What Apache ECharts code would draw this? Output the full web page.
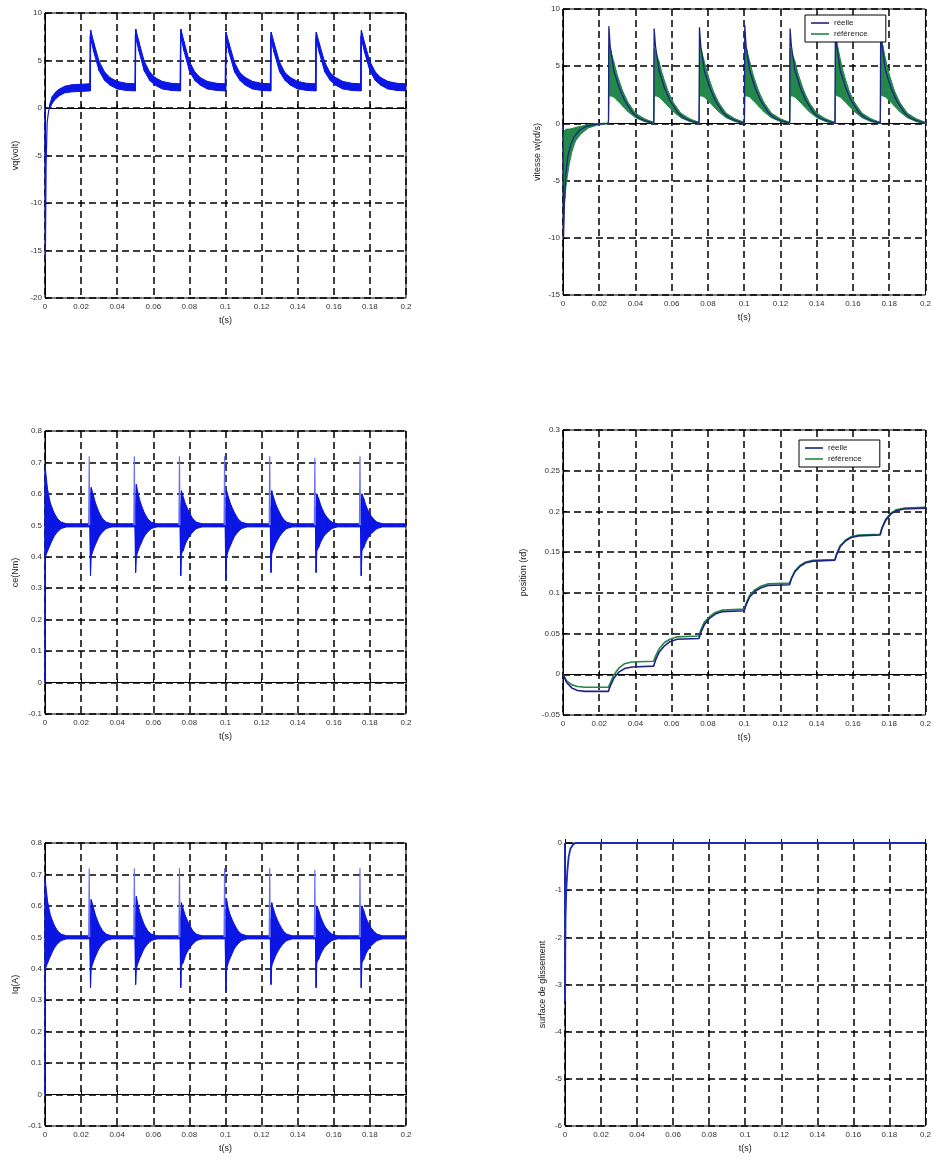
<!DOCTYPE html>
<html><head><meta charset="utf-8">
<script src="https://cdn.jsdelivr.net/npm/echarts@6/dist/echarts.min.js"></script>
<style>html,body{margin:0;padding:0;background:#fff}#c{width:934px;height:1163px}</style>
</head><body><div id="c"></div>
<script>
// ---------- Plot 1 : vq(volt) ----------
const vqStartT = [0, 0.0002, 0.0006, 0.0012, 0.002, 0.0028];
const vqStartV = [0, -16, -6, -1.5, -0.3, 0.1];
const vqT = [0.0025,0.004,0.006,0.008,0.011,0.015,0.02,0.0248,
0.0251,0.0253,0.027,0.030,0.033,0.036,0.040,0.045,0.0498,
0.0501,0.0503,0.052,0.055,0.058,0.061,0.065,0.070,0.0748,
0.0751,0.0753,0.077,0.080,0.083,0.086,0.090,0.095,0.0998,
0.1001,0.1003,0.102,0.105,0.108,0.111,0.115,0.120,0.1248,
0.1251,0.1253,0.127,0.130,0.133,0.136,0.140,0.145,0.1498,
0.1501,0.1503,0.152,0.155,0.158,0.161,0.165,0.170,0.1748,
0.1751,0.1753,0.177,0.180,0.183,0.186,0.190,0.195,0.2];
const vqLow = [-0.1,0.5,1.0,1.3,1.6,1.7,1.75,1.8,
1.8,7.3,5.9,3.9,2.9,2.4,2.0,1.85,1.8,
1.8,7.4,6.0,3.9,2.9,2.4,2.0,1.85,1.8,
1.8,7.4,6.0,3.9,2.9,2.4,2.0,1.85,1.8,
1.8,7.1,5.8,3.8,2.9,2.4,2.0,1.85,1.8,
1.8,7.1,5.8,3.8,2.9,2.4,2.0,1.85,1.8,
1.8,7.1,5.8,3.8,2.9,2.4,2.0,1.85,1.8,
1.8,7.3,5.9,3.9,2.9,2.4,2.0,1.85,1.8];
const vqHigh = [0.3,1.2,1.7,2.0,2.3,2.45,2.5,2.55,
7.6,8.2,6.9,4.9,3.8,3.2,2.8,2.6,2.55,
7.7,8.3,7.0,4.9,3.8,3.2,2.8,2.6,2.55,
7.7,8.3,7.0,4.9,3.8,3.2,2.8,2.6,2.55,
7.4,8.0,6.8,4.8,3.7,3.2,2.8,2.6,2.55,
7.4,8.0,6.8,4.8,3.7,3.2,2.8,2.6,2.55,
7.4,8.0,6.8,4.8,3.7,3.2,2.8,2.6,2.55,
7.6,8.2,6.9,4.9,3.8,3.2,2.8,2.6,2.55];

// ---------- Plot 2 : vitesse w(rd/s) ----------
const wT = [0,0.0003,0.0008,0.0015,0.0025,0.004,0.006,0.009,0.013,0.018,0.0249,
0.0251,0.0253,0.026,0.028,0.031,0.034,0.0385,0.042,0.046,0.0499,
0.0501,0.0503,0.051,0.053,0.056,0.059,0.0635,0.067,0.071,0.0749,
0.0751,0.0753,0.076,0.078,0.081,0.084,0.0885,0.092,0.096,0.0999,
0.1001,0.1003,0.101,0.103,0.106,0.109,0.1135,0.117,0.121,0.1249,
0.1251,0.1253,0.126,0.128,0.131,0.134,0.1385,0.142,0.146,0.1499,
0.1501,0.1503,0.151,0.153,0.156,0.159,0.1635,0.167,0.171,0.1749,
0.1751,0.1753,0.176,0.178,0.181,0.184,0.1885,0.192,0.196,0.2];
const wReal = [0,-10,-7,-4.5,-3,-2,-1.2,-0.6,-0.25,-0.08,0,
0.3,8.5,6.8,4.6,3.1,2.0,0.9,0.45,0.2,0.05,
0.3,8.3,6.8,4.6,3.1,2.0,0.9,0.45,0.2,0.05,
0.3,8.4,6.8,4.6,3.1,2.0,0.9,0.45,0.2,0.05,
0.3,8.6,6.8,4.6,3.1,2.0,0.9,0.45,0.2,0.05,
0.3,8.3,6.8,4.6,3.1,2.0,0.9,0.45,0.2,0.05,
0.3,8.4,6.8,4.6,3.1,2.0,0.9,0.45,0.2,0.05,
0.3,8.4,6.8,4.6,3.1,2.0,0.9,0.45,0.2,0.0];
const wRefT = [0.0002,0.001,0.002,0.0035,0.005,0.007,0.010,0.014,0.019,0.0249,
0.0251,0.0254,0.0265,0.028,0.030,0.033,0.036,0.040,0.045,0.0499,
0.0501,0.0504,0.0515,0.053,0.055,0.058,0.061,0.065,0.070,0.0749,
0.0751,0.0754,0.0765,0.078,0.080,0.083,0.086,0.090,0.095,0.0999,
0.1001,0.1004,0.1015,0.103,0.105,0.108,0.111,0.115,0.120,0.1249,
0.1251,0.1254,0.1265,0.128,0.130,0.133,0.136,0.140,0.145,0.1499,
0.1501,0.1504,0.1515,0.153,0.155,0.158,0.161,0.165,0.170,0.1749,
0.1751,0.1754,0.1765,0.178,0.180,0.183,0.186,0.190,0.195,0.2];
const wRefLow = [-8.5,-6.5,-5.0,-3.5,-2.4,-1.5,-0.9,-0.4,-0.15,-0.02,
0,2.4,2.4,2.3,2.0,1.5,1.0,0.5,0.15,0.0,
0,2.4,2.4,2.3,2.0,1.5,1.0,0.5,0.15,0.0,
0,2.4,2.4,2.3,2.0,1.5,1.0,0.5,0.15,0.0,
0,2.4,2.4,2.3,2.0,1.5,1.0,0.5,0.15,0.0,
0,2.4,2.4,2.3,2.0,1.5,1.0,0.5,0.15,0.0,
0,2.5,2.4,2.3,2.0,1.5,1.0,0.5,0.15,0.0,
0,2.5,2.4,2.3,2.0,1.5,1.0,0.5,0.15,0.0];
const wRefHigh = [-1.0,-0.6,-0.5,-0.5,-0.45,-0.35,-0.25,-0.1,0.0,0.02,
0.05,6.8,6.3,5.4,4.2,2.8,1.8,0.9,0.4,0.1,
0.05,6.6,6.1,5.4,4.2,2.8,1.8,0.9,0.4,0.1,
0.05,6.8,6.3,5.4,4.2,2.8,1.8,0.9,0.4,0.1,
0.05,6.9,6.4,5.4,4.2,2.8,1.8,0.9,0.4,0.1,
0.05,6.6,6.1,5.4,4.2,2.8,1.8,0.9,0.4,0.1,
0.05,7.6,6.8,5.6,4.3,2.8,1.8,0.9,0.4,0.1,
0.05,7.6,6.8,5.6,4.3,2.8,1.8,0.9,0.4,0.1];

// ---------- Plot 3 : ce(Nm) ----------
const ceStartT = [0, 0.0001, 0.0002];
const ceStartV = [0, 0.69, 0.40];
const ceT = [0.0002,0.0015,0.003,0.005,0.007,0.009,0.012,0.0243,
0.0248,0.0252,0.0256,0.0266,0.028,0.030,0.032,0.034,0.037,0.0493,
0.0498,0.0502,0.0506,0.0516,0.053,0.055,0.057,0.059,0.062,0.0743,
0.0748,0.0752,0.0756,0.0766,0.078,0.080,0.082,0.084,0.087,0.0993,
0.0998,0.1002,0.1006,0.1016,0.103,0.105,0.107,0.109,0.112,0.1243,
0.1248,0.1252,0.1256,0.1266,0.128,0.130,0.132,0.134,0.137,0.1493,
0.1498,0.1502,0.1506,0.1516,0.153,0.155,0.157,0.159,0.162,0.1743,
0.1748,0.1752,0.1756,0.1766,0.178,0.180,0.182,0.184,0.187,0.2];
const ceLow = [0.40,0.42,0.44,0.465,0.48,0.49,0.495,0.495,
0.495,0.34,0.40,0.42,0.44,0.465,0.48,0.49,0.495,0.495,
0.495,0.35,0.40,0.42,0.44,0.465,0.48,0.49,0.495,0.495,
0.495,0.34,0.41,0.42,0.445,0.465,0.48,0.49,0.495,0.495,
0.495,0.33,0.40,0.42,0.44,0.465,0.48,0.49,0.495,0.495,
0.495,0.35,0.41,0.425,0.445,0.465,0.48,0.49,0.495,0.495,
0.495,0.35,0.42,0.43,0.45,0.47,0.48,0.49,0.495,0.495,
0.495,0.34,0.42,0.43,0.45,0.47,0.48,0.49,0.495,0.495];
const ceHigh = [0.68,0.61,0.57,0.54,0.52,0.51,0.505,0.505,
0.505,0.56,0.62,0.60,0.57,0.54,0.52,0.51,0.505,0.505,
0.505,0.56,0.63,0.60,0.57,0.54,0.52,0.51,0.505,0.505,
0.505,0.56,0.61,0.59,0.565,0.54,0.52,0.51,0.505,0.505,
0.505,0.56,0.61,0.59,0.565,0.54,0.52,0.51,0.505,0.505,
0.505,0.56,0.61,0.59,0.565,0.54,0.52,0.51,0.505,0.505,
0.505,0.56,0.60,0.585,0.56,0.535,0.52,0.51,0.505,0.505,
0.505,0.56,0.60,0.585,0.56,0.535,0.52,0.51,0.505,0.505];
const ceSpikeT = [0.0242,0.0245,0.0248,0.0249, 0.0492,0.0495,0.0498,0.0499, 0.0742,0.0745,0.0748,0.0749,
0.0992,0.0995,0.0998,0.0999, 0.1242,0.1245,0.1248,0.1249, 0.1492,0.1495,0.1498,0.1499, 0.1742,0.1745,0.1748];
const ceSpikeV = [0.5,0.72,0.5,'-', 0.5,0.72,0.5,'-', 0.5,0.72,0.5,'-',
0.5,0.72,0.5,'-', 0.5,0.72,0.5,'-', 0.5,0.715,0.5,'-', 0.5,0.72,0.5];

// ---------- Plot 4 : position (rd) ----------
const posT = [0,0.002,0.005,0.008,0.012,0.025,0.026,0.028,0.031,0.034,0.038,0.05,
0.051,0.053,0.056,0.059,0.063,0.075,0.076,0.078,0.081,0.084,0.088,0.1,
0.101,0.103,0.106,0.109,0.113,0.125,0.126,0.128,0.131,0.134,0.138,0.15,
0.151,0.153,0.156,0.159,0.163,0.175,0.176,0.178,0.181,0.184,0.188,0.2];
const posReal = [0,-0.010,-0.017,-0.020,-0.021,-0.021,-0.015,-0.005,0.003,0.007,0.009,0.010,
0.017,0.027,0.035,0.040,0.043,0.044,0.051,0.061,0.069,0.074,0.077,0.078,
0.085,0.095,0.102,0.106,0.109,0.110,0.117,0.126,0.133,0.137,0.139,0.140,
0.147,0.157,0.164,0.168,0.170,0.171,0.179,0.189,0.197,0.201,0.203,0.204];
const posRef = [0,-0.008,-0.013,-0.015,-0.016,-0.016,-0.011,-0.001,0.008,0.013,0.015,0.016,
0.022,0.031,0.039,0.043,0.046,0.047,0.054,0.064,0.071,0.076,0.079,0.080,
0.087,0.097,0.104,0.108,0.111,0.112,0.118,0.127,0.134,0.138,0.140,0.141,
0.148,0.158,0.165,0.169,0.171,0.172,0.180,0.190,0.198,0.202,0.204,0.205];

// ---------- Plot 5 : Iq(A) ----------
const iqStartT = [0, 0.0001, 0.0002];
const iqStartV = [0, 0.69, 0.40];
const iqT = ceT;
const iqLow = [0.40,0.42,0.44,0.465,0.48,0.49,0.495,0.495,
0.495,0.34,0.40,0.42,0.44,0.465,0.48,0.49,0.495,0.495,
0.495,0.35,0.40,0.42,0.44,0.465,0.48,0.49,0.495,0.495,
0.495,0.34,0.41,0.42,0.445,0.465,0.48,0.49,0.495,0.495,
0.495,0.33,0.40,0.42,0.44,0.465,0.48,0.49,0.495,0.495,
0.495,0.35,0.41,0.425,0.445,0.465,0.48,0.49,0.495,0.495,
0.495,0.34,0.42,0.43,0.45,0.47,0.48,0.49,0.495,0.495,
0.495,0.34,0.42,0.43,0.45,0.47,0.48,0.49,0.495,0.495];
const iqHigh = [0.68,0.61,0.57,0.54,0.52,0.51,0.505,0.505,
0.505,0.56,0.62,0.60,0.57,0.54,0.52,0.51,0.505,0.505,
0.505,0.56,0.63,0.60,0.57,0.54,0.52,0.51,0.505,0.505,
0.505,0.56,0.61,0.59,0.565,0.54,0.52,0.51,0.505,0.505,
0.505,0.56,0.62,0.59,0.565,0.54,0.52,0.51,0.505,0.505,
0.505,0.56,0.61,0.59,0.565,0.54,0.52,0.51,0.505,0.505,
0.505,0.56,0.60,0.585,0.56,0.535,0.52,0.51,0.505,0.505,
0.505,0.56,0.60,0.585,0.56,0.535,0.52,0.51,0.505,0.505];
const iqSpikeT = ceSpikeT;
const iqSpikeV = [0.5,0.72,0.5,'-', 0.5,0.72,0.5,'-', 0.5,0.72,0.5,'-',
0.5,0.72,0.5,'-', 0.5,0.72,0.5,'-', 0.5,0.715,0.5,'-', 0.5,0.72,0.5];

// ---------- Plot 6 : surface de glissement ----------
const sT = [0,0.00005,0.00015,0.0003,0.0007,0.0013,0.002,0.003,0.0045,0.006,0.2];
const sV = [0,-3.35,-2.4,-1.6,-1.0,-0.6,-0.3,-0.12,-0.03,0,0];

// ---------- axis settings ----------
const xMin = 0, xMax = 0.2, xStep = 0.02;
const yAxes = [
  {name:'vq(volt)', min:-20, max:10, step:5},
  {name:'vitesse w(rd/s)', min:-15, max:10, step:5},
  {name:'ce(Nm)', min:-0.1, max:0.8, step:0.1},
  {name:'position (rd)', min:-0.05, max:0.3, step:0.05},
  {name:'Iq(A)', min:-0.1, max:0.8, step:0.1},
  {name:'surface de glissement', min:-6, max:0, step:1}
];
const legendNames = ['réelle', 'référence'];

// ---------- layout ----------
const FONT = 'Liberation Sans, Arial, sans-serif';
const grids = [
  {left:45, top:13, width:361, height:285},
  {left:563, top:9, width:364, height:286},
  {left:45, top:431, width:361, height:283},
  {left:563, top:430, width:364, height:285},
  {left:45, top:843, width:361, height:283},
  {left:565, top:843, width:361, height:283}
];
const yNameGaps = [25, 21, 25, 35, 25, 18];
const BLUE = '#0b16e4', LIGHTBLUE = '#6a72f2', NAVY = '#1d2380', GREEN = '#24884a';

const pairs = (T, V) => T.map((t, i) => [t, V[i]]);
const fmt = v => String(+(+v).toFixed(4));

const xAxis = grids.map((g, i) => ({
  type:'value', gridIndex:i, min:xMin, max:xMax, interval:xStep,
  name:'t(s)', nameLocation:'middle', nameGap:18,
  nameTextStyle:{fontSize:9, color:'#222', fontFamily:FONT},
  axisLine:{show:true, lineStyle:{color:'#000', width:1}},
  axisTick:{show:true, inside:true, length:4, lineStyle:{color:'#000'}},
  axisLabel:{fontSize:8, color:'#333', margin:5, fontFamily:FONT, formatter:fmt},
  splitLine:{show:true, lineStyle:{color:'#000', width:1.5, type:[7,4]}}
}));
const yAxis = yAxes.map((a, i) => ({
  type:'value', gridIndex:i, min:a.min, max:a.max, interval:a.step,
  name:a.name, nameLocation:'middle', nameGap:yNameGaps[i], nameRotate:90,
  nameTextStyle:{fontSize:9, color:'#222', fontFamily:FONT},
  axisLine:{show:true, lineStyle:{color:'#000', width:1}},
  axisTick:{show:true, inside:true, length:4, lineStyle:{color:'#000'}},
  axisLabel:{fontSize:8, color:'#333', margin:3, fontFamily:FONT, formatter:fmt},
  splitLine:{show:true, lineStyle:{color:'#000', width:1.5, type:[7,4]}}
}));

function line(name, gi, T, V, color, width, z) {
  return {name, type:'line', xAxisIndex:gi, yAxisIndex:gi, symbol:'none', data:pairs(T, V),
    lineStyle:{color, width}, itemStyle:{color}, z: z || 2, silent:true, connectNulls:false};
}
// Noise band (dense oscillation envelope) drawn as polygons between lower and upper envelope
function band(name, gi, T, L, H, color, z) {
  const d = T.map((t, i) => [t, L[i], H[i]]);
  return {
    name, type:'custom', xAxisIndex:gi, yAxisIndex:gi, data:d, z: z || 2, silent:true,
    itemStyle:{color}, encode:{x:0, y:[1, 2]}, clip:true,
    renderItem: function (params, api) {
      const i = params.dataIndex;
      if (i >= d.length - 1) return null;
      const a = d[i], b = d[i + 1];
      const pts = [api.coord([a[0], a[1]]), api.coord([b[0], b[1]]),
                   api.coord([b[0], b[2]]), api.coord([a[0], a[2]])];
      return {type:'polygon', shape:{points:pts}, style:{fill:color, stroke:color, lineWidth:1}};
    }
  };
}

const series = [
  line('vq_start', 0, vqStartT, vqStartV, BLUE, 1.2),
  band('vq', 0, vqT, vqLow, vqHigh, BLUE),

  band('référence', 1, wRefT, wRefLow, wRefHigh, GREEN, 2),
  line('réelle', 1, wT, wReal, NAVY, 1.3, 4),

  line('ce_start', 2, ceStartT, ceStartV, BLUE, 1.5),
  band('ce', 2, ceT, ceLow, ceHigh, BLUE),
  line('ce_spike', 2, ceSpikeT, ceSpikeV, LIGHTBLUE, 1.2),

  line('référence', 3, posT, posRef, GREEN, 1.6),
  line('réelle', 3, posT, posReal, NAVY, 1.6, 3),

  line('iq_start', 4, iqStartT, iqStartV, BLUE, 1.5),
  band('iq', 4, iqT, iqLow, iqHigh, BLUE),
  line('iq_spike', 4, iqSpikeT, iqSpikeV, LIGHTBLUE, 1.2),

  line('s', 5, sT, sV, '#1a2ab8', 1.8)
];

const legendCommon = {
  orient:'vertical', icon:'rect', itemWidth:18, itemHeight:1.6, itemGap:3,
  data:legendNames.map(n => ({name:n, itemStyle:{color: n === 'réelle' ? NAVY : GREEN}})),
  textStyle:{fontSize:8, color:'#222', fontFamily:FONT},
  borderColor:'#000', borderWidth:1, borderRadius:0, backgroundColor:'#fff', padding:[4,18,4,6],
  selectedMode:false, z:10
};

const chart = echarts.init(document.getElementById('c'), null, {renderer:'canvas'});
chart.setOption({
  animation:false,
  backgroundColor:'#fff',
  textStyle:{fontFamily:FONT},
  grid: grids.map(g => Object.assign({show:true, borderColor:'#000', borderWidth:1, backgroundColor:'transparent'}, g)),
  xAxis, yAxis,
  legend:[
    Object.assign({left:805, top:15}, legendCommon),
    Object.assign({left:799, top:440}, legendCommon)
  ],
  series
});
</script>
</body></html>
